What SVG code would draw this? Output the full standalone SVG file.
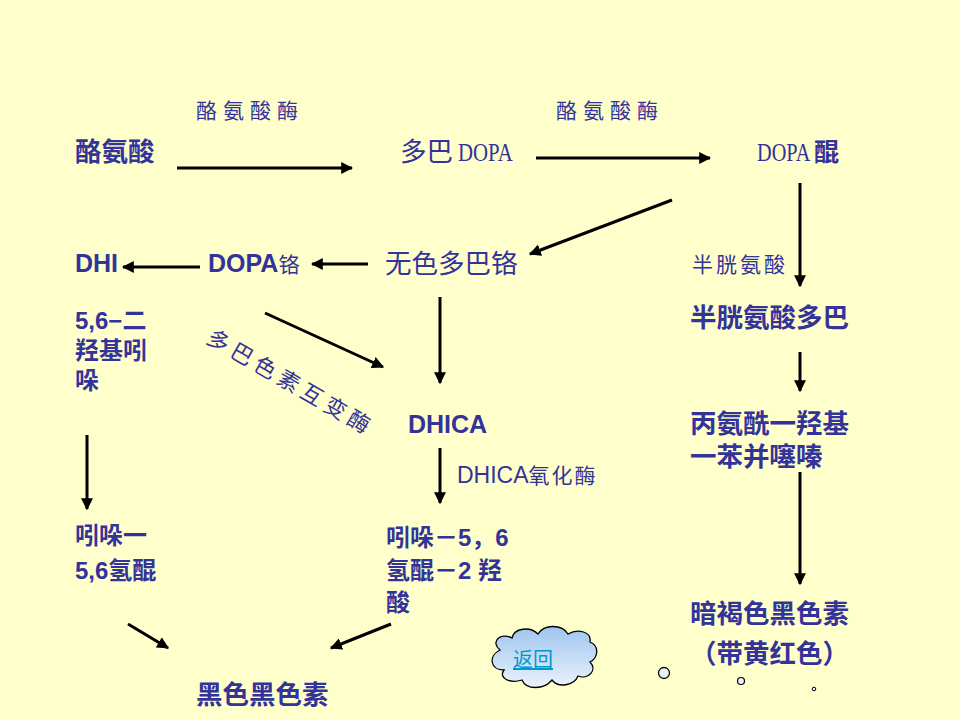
<svg xmlns="http://www.w3.org/2000/svg" width="960" height="720" viewBox="0 0 960 720">
<defs>
<marker id="ah" viewBox="0 0 10 10" refX="9" refY="5" markerWidth="4" markerHeight="4" orient="auto" markerUnits="strokeWidth">
<path d="M0,0 L10,5 L0,10 z" fill="#000"/>
</marker>
<linearGradient id="cg" x1="0" y1="0" x2="0" y2="1">
<stop offset="0" stop-color="#9EC5F0"/>
<stop offset="1" stop-color="#EAF3FC"/>
</linearGradient>
<style>
.m{font-family:"Liberation Sans","Noto Sans CJK SC",sans-serif;font-size:26.5px;font-weight:bold;fill:#333399}
.s{font-family:"Liberation Serif","Noto Sans CJK SC",serif;font-size:21px;fill:#333399;letter-spacing:6px}
.e{font-family:"Liberation Sans",sans-serif;font-weight:bold;font-size:25px;fill:#333399}
.d{font-family:"Liberation Serif",serif;font-size:26px;fill:#333399}
.ar{stroke:#000;stroke-width:3;fill:none;marker-end:url(#ah)}
</style>
</defs>
<rect width="960" height="720" fill="#FFFFCC"/>
<g id="connectors">
<line class="ar" x1="177" y1="168" x2="352" y2="168"/>
<line class="ar" x1="536" y1="158" x2="710" y2="158"/>
<line class="ar" x1="800" y1="183" x2="800" y2="286"/>
<line class="ar" x1="672" y1="200" x2="530" y2="254"/>
<line class="ar" x1="368" y1="264" x2="312" y2="264"/>
<line class="ar" x1="200" y1="267" x2="123" y2="267"/>
<line class="ar" x1="265" y1="313" x2="383" y2="367"/>
<line class="ar" x1="440" y1="297" x2="440" y2="383"/>
<line class="ar" x1="440" y1="448" x2="440" y2="503"/>
<line class="ar" x1="87" y1="435" x2="87" y2="509"/>
<line class="ar" x1="128" y1="624" x2="168" y2="648"/>
<line class="ar" x1="391" y1="624" x2="331" y2="648"/>
<line class="ar" x1="800" y1="352" x2="800" y2="391"/>
<line class="ar" x1="800" y1="472" x2="800" y2="584"/>
</g>
<g id="label-enzyme1"><text class="s" x="196" y="118">酪氨酸酶</text></g>
<g id="label-enzyme2"><text class="s" x="556" y="118">酪氨酸酶</text></g>
<g id="n-tyrosine"><text class="m" x="75" y="161">酪氨酸</text></g>
<g id="n-dopa"><text class="m" x="400" y="161" style="font-weight:normal">多巴</text><text class="d" transform="translate(458,161) scale(0.8,1)">DOPA</text></g>
<g id="n-dopaquinone"><text class="d" transform="translate(757,161) scale(0.78,1)">DOPA</text><text class="m" x="814" y="161" style="font-size:25px">醌</text></g>
<g id="n-leucodopachrome"><text class="m" x="385" y="273" style="font-weight:normal">无色多巴铬</text></g>
<g id="n-dopachrome"><text class="e" x="208" y="272">DOPA<tspan style="font-family:'Noto Sans CJK SC',sans-serif;font-weight:normal;font-size:21px">铬</tspan></text></g>
<g id="n-dhi"><text class="e" x="75" y="272">DHI</text>
<text class="m" style="font-size:24px"><tspan x="75" y="329">5,6−二</tspan><tspan x="75" y="359">羟基吲</tspan><tspan x="75" y="389">哚</tspan></text></g>
<g id="label-tautomerase"><text class="s" transform="translate(205,342) rotate(30)" style="font-size:22px;letter-spacing:5px">多巴色素互变酶</text></g>
<g id="n-dhica"><text class="e" x="408" y="433">DHICA</text></g>
<g id="label-dhica-oxidase"><text x="457" y="483" style="font-family:'Liberation Sans',sans-serif;font-size:23px;fill:#333399">DHICA<tspan style="font-family:'Noto Sans CJK SC',serif;font-size:21px;letter-spacing:2px">氧化酶</tspan></text></g>
<g id="n-indolequinone"><text class="m" style="font-size:24px"><tspan x="75" y="544">吲哚一</tspan><tspan x="75" y="579">5,6氢醌</tspan></text></g>
<g id="n-indolequinone-acid"><text class="m" style="font-size:24px"><tspan x="386" y="546">吲哚－5，6</tspan><tspan x="386" y="579">氢醌－2 羟</tspan><tspan x="386" y="611">酸</tspan></text></g>
<g id="n-eumelanin"><text class="m" x="196" y="704">黑色黑色素</text></g>
<g id="label-cysteine"><text class="s" x="692" y="272" style="letter-spacing:3px">半胱氨酸</text></g>
<g id="n-cysteinyldopa"><text class="m" x="690" y="327">半胱氨酸多巴</text></g>
<g id="n-benzothiazine"><text class="m"><tspan x="690" y="433">丙氨酰一羟基</tspan><tspan x="690" y="466">一苯并噻嗪</tspan></text></g>
<g id="n-pheomelanin"><text class="m"><tspan x="690" y="623">暗褐色黑色素</tspan><tspan x="690" y="663">（带黄红色）</tspan></text></g>
<g id="return-cloud">
<path d="M500,650 C490,642 500,632 512,638 C514,628 530,626 538,634 C544,624 562,624 568,634 C578,628 592,632 590,642 C600,646 598,658 590,662 C598,670 588,680 578,676 C574,686 558,688 552,680 C544,690 526,690 522,680 C510,684 498,678 504,670 C490,670 488,656 500,650 Z" fill="url(#cg)" stroke="#000" stroke-width="1.3"/>
<text x="513" y="667" style="font-family:'Noto Sans CJK SC',sans-serif;font-size:20px;fill:#0099CC;text-decoration:underline">返回</text>
<circle cx="664" cy="673" r="5.5" fill="#EAF3FC" stroke="#000" stroke-width="1.3"/>
<circle cx="741" cy="681" r="3.5" fill="#EAF3FC" stroke="#000" stroke-width="1.2"/>
<circle cx="814" cy="689" r="1.8" fill="#EAF3FC" stroke="#000" stroke-width="1"/>
</g>
</svg>
